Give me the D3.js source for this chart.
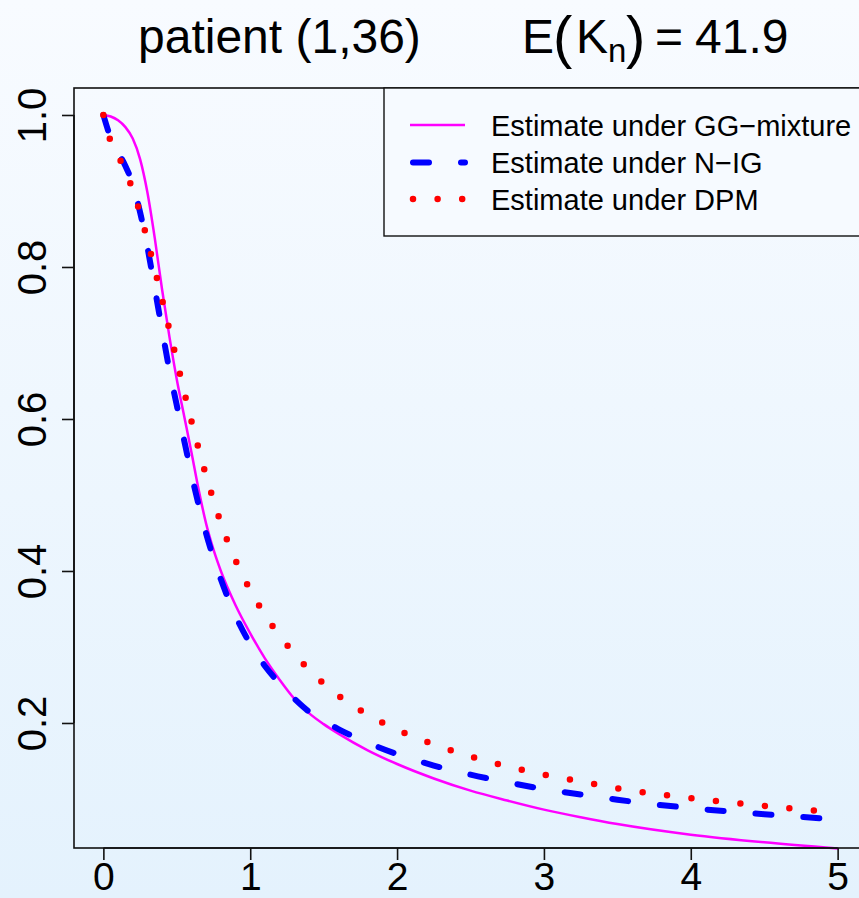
<!DOCTYPE html>
<html>
<head>
<meta charset="utf-8">
<script src="https://cdn.jsdelivr.net/npm/d3@7"></script>
<style>
  html, body { margin: 0; padding: 0; }
  body { width: 859px; height: 898px; overflow: hidden; }
  svg { display: block; font-family: "Liberation Sans", Arial, Helvetica, sans-serif; }
</style>
</head>
<body>
<svg id="chart" width="859" height="898"></svg>
<script>
// Survival estimates S(t) for patient (1,36) under three models
const times     = [0, 0.05, 0.1, 0.15, 0.2, 0.25, 0.3, 0.35, 0.4, 0.45, 0.5, 0.55, 0.6, 0.65, 0.7, 0.75, 0.8, 0.9, 1.0, 1.1, 1.2, 1.3, 1.4, 1.5, 1.6, 1.8, 2.0, 2.25, 2.5, 2.75, 3.0, 3.25, 3.5, 4.0, 4.5, 5.0];
const ggMixture = [1.0, 0.998, 0.993, 0.984, 0.969, 0.942, 0.898, 0.838, 0.770, 0.708, 0.652, 0.604, 0.556, 0.506, 0.462, 0.428, 0.400, 0.355, 0.318, 0.285, 0.257, 0.232, 0.213, 0.1985, 0.186, 0.164, 0.146, 0.127, 0.111, 0.098, 0.086, 0.076, 0.067, 0.053, 0.043, 0.035];
const nIG       = [1.0, 0.970, 0.951, 0.933, 0.909, 0.872, 0.826, 0.772, 0.717, 0.664, 0.618, 0.572, 0.527, 0.486, 0.449, 0.417, 0.389, 0.341, 0.304, 0.275, 0.252, 0.232, 0.215, 0.203, 0.192, 0.174, 0.159, 0.144, 0.132, 0.122, 0.113, 0.106, 0.099, 0.088, 0.080, 0.073];
const dpm       = [1.0, 0.965, 0.946, 0.927, 0.901, 0.871, 0.835, 0.797, 0.757, 0.717, 0.677, 0.636, 0.597, 0.560, 0.525, 0.493, 0.463, 0.414, 0.375, 0.342, 0.315, 0.291, 0.270, 0.252, 0.236, 0.211, 0.191, 0.172, 0.156, 0.143, 0.132, 0.123, 0.114, 0.101, 0.091, 0.082];

const xTicks = [0, 1, 2, 3, 4, 5];
const yTicks = [0.2, 0.4, 0.6, 0.8, 1.0];
const legendLabels = ["Estimate under GG\u2212mixture", "Estimate under N\u2212IG", "Estimate under DPM"];

const W = 859, H = 898;
const svg = d3.select("#chart");

// background gradient
const defs = svg.append("defs");
const grad = defs.append("linearGradient").attr("id", "bg").attr("x1", 0).attr("y1", 0).attr("x2", 0).attr("y2", 1);
grad.append("stop").attr("offset", "0%").attr("stop-color", "#f8fbff");
grad.append("stop").attr("offset", "100%").attr("stop-color", "#e4f2fd");
svg.append("rect").attr("width", W).attr("height", H).attr("fill", "url(#bg)");

// plot region (x range extends 4% beyond data on each side)
const plot = { left: 74, right: 867, top: 88, bottom: 848 };
const x = d3.scaleLinear().domain([-0.2, 5.2]).range([plot.left, plot.right]);
const y = d3.scaleLinear().domain([0.0355, 1.0355]).range([plot.bottom, plot.top]);

const line = d3.line().x(d => x(d[0])).y(d => y(d[1])).curve(d3.curveMonotoneX);

const series = [
  { values: ggMixture, color: "#ff00ff", width: 2.5, dash: null },
  { values: nIG,       color: "#0000ff", width: 6,   dash: "16,32" },
  { values: dpm,       color: "#ff0000", width: 6.5, dash: "0,24.6" }
];

series.forEach(s => {
  svg.append("path")
    .datum(times.map((t, i) => [t, s.values[i]]))
    .attr("d", line)
    .attr("fill", "none")
    .attr("stroke", s.color)
    .attr("stroke-width", s.width)
    .attr("stroke-linecap", "round")
    .attr("stroke-linejoin", "round")
    .attr("stroke-dasharray", s.dash);
});

// plot frame
svg.append("rect")
  .attr("x", plot.left).attr("y", plot.top)
  .attr("width", plot.right - plot.left).attr("height", plot.bottom - plot.top)
  .attr("fill", "none").attr("stroke", "#111").attr("stroke-width", 1.6);

// x axis
const xAxis = svg.append("g").attr("transform", `translate(0,${plot.bottom})`)
  .call(d3.axisBottom(x).tickValues(xTicks).tickFormat(d3.format("d")).tickSize(12).tickPadding(6));
xAxis.select(".domain").attr("d", `M${x(0)},0H${x(5)}`).attr("stroke", "#111").attr("stroke-width", 1.6);
xAxis.selectAll(".tick line").attr("stroke", "#111").attr("stroke-width", 1.6);
xAxis.selectAll(".tick text").attr("font-size", 39).attr("fill", "#000")
  .attr("font-family", "'Liberation Sans', Arial, sans-serif").attr("dy", null).attr("y", 42);

// y axis (labels rotated parallel to the axis)
const yAxis = svg.append("g").attr("transform", `translate(${plot.left},0)`)
  .call(d3.axisLeft(y).tickValues(yTicks).tickFormat(d3.format(".1f")).tickSize(12));
yAxis.select(".domain").attr("d", `M0,${y(0.2)}V${y(1.0)}`).attr("stroke", "#111").attr("stroke-width", 1.6);
yAxis.selectAll(".tick line").attr("stroke", "#111").attr("stroke-width", 1.6);
yAxis.selectAll(".tick text")
  .attr("font-size", 40).attr("fill", "#000")
  .attr("font-family", "'Liberation Sans', Arial, sans-serif")
  .attr("x", null).attr("dy", null)
  .attr("text-anchor", "middle")
  .attr("transform", "translate(-28,0) rotate(-90)");

// legend
const leg = svg.append("g");
leg.append("rect").attr("x", 384).attr("y", plot.top).attr("width", plot.right - 384).attr("height", 236 - plot.top)
  .attr("fill", "#f6faff").attr("stroke", "#111").attr("stroke-width", 1.4);
const rowY = [125, 162.5, 199];
series.forEach((s, i) => {
  leg.append("line")
    .attr("x1", 410 + (s.dash ? 3 : 0)).attr("x2", 465)
    .attr("y1", rowY[i]).attr("y2", rowY[i])
    .attr("stroke", s.color).attr("stroke-width", s.dash ? s.width : 2.5)
    .attr("stroke-linecap", s.dash ? "round" : "butt")
    .attr("stroke-dasharray", s.dash);
  leg.append("text")
    .attr("x", 491).attr("y", rowY[i] + 10.5)
    .attr("font-size", 29).attr("fill", "#000")
    .text(legendLabels[i]);
});

// title
const title = svg.append("g").attr("fill", "#000");
title.append("text").attr("x", 138).attr("y", 53).attr("font-size", 48).text("patient (1,36)");
const eq = [
  { t: "E",    x: 522, y: 53, size: 48 },
  { t: "(",    x: 553, y: 57, size: 58 },
  { t: "K",    x: 576, y: 53, size: 48 },
  { t: "n",    x: 608, y: 62, size: 33 },
  { t: ")",    x: 626, y: 57, size: 58 },
  { t: "=",    x: 655, y: 53, size: 48 },
  { t: "41.9", x: 695, y: 53, size: 48 }
];
eq.forEach(p => title.append("text").attr("x", p.x).attr("y", p.y).attr("font-size", p.size).text(p.t));
</script>
</body>
</html>
